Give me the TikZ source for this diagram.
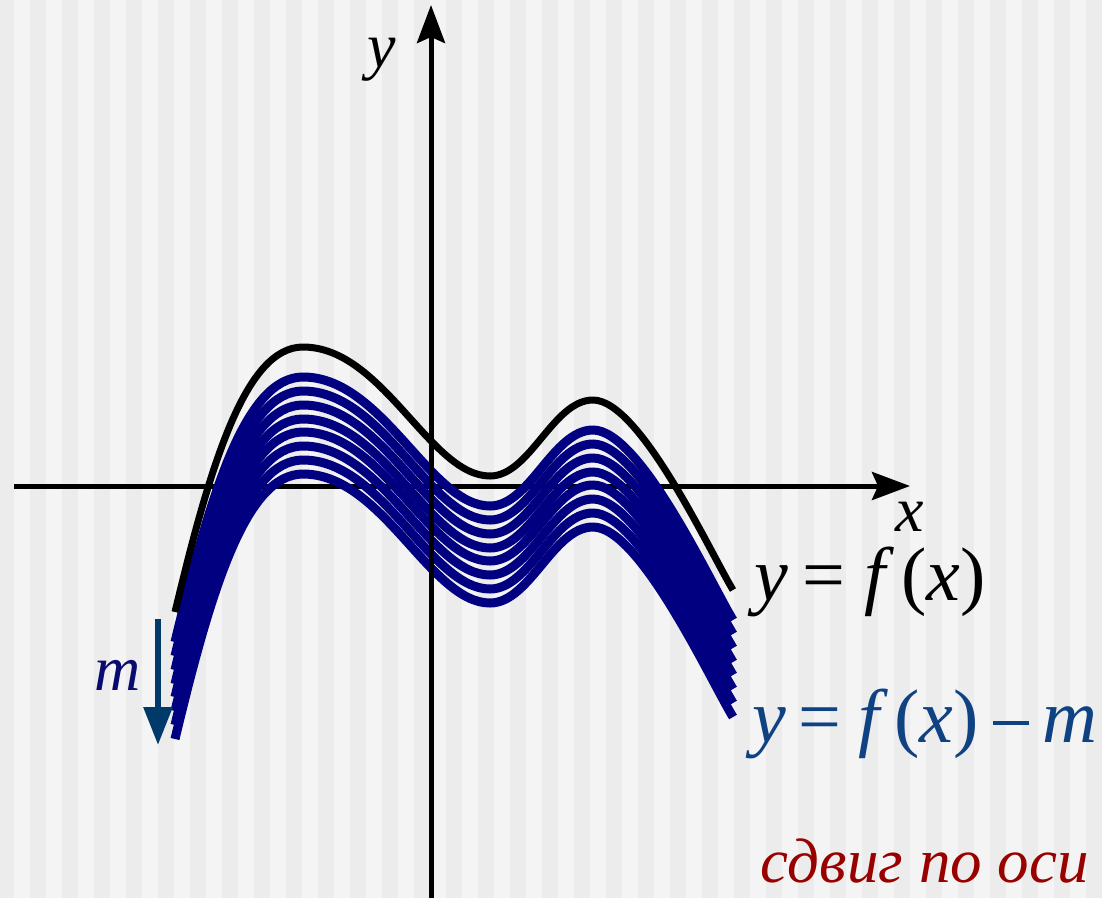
\documentclass[tikz,border=0pt]{standalone}
\usepackage{fontspec}
\setmainfont{Liberation Serif}
\usetikzlibrary{arrows.meta}
\definecolor{bgdark}{HTML}{ECECEC}
\definecolor{bglight}{HTML}{F4F4F4}
\definecolor{curveblue}{HTML}{000080}
\definecolor{arrowblue}{HTML}{003A6B}
\definecolor{formblue}{HTML}{0F4282}
\definecolor{mblue}{HTML}{0A0A70}
\definecolor{darkred}{HTML}{990000}
\newcommand\fcurvepath{(175,612) .. controls (210,466) and (245,347) .. (303,347) .. controls (383,347) and (430,476) .. (490,476) .. controls (530,476) and (553,400) .. (593,400) .. controls (640,400) and (710,552) .. (733,590)}
\newcommand\mminus{\raisebox{17pt}{\rule{36pt}{3.6pt}}}
\tikzset{
  axisline/.style={line width=5pt, black, -{Stealth[length=38pt,width=28pt,inset=6pt]}},
  blackcurve/.style={line width=7pt, black},
  bluecurve/.style={line width=9pt, curveblue},
  shiftarrow/.style={line width=6pt, arrowblue, -{Triangle[length=38pt,width=28pt]}},
  lbl/.style={inner sep=0pt, outer sep=0pt},
  bigfont/.style={font=\fontsize{76}{88}\selectfont}
}
\begin{document}
\begin{tikzpicture}[x=1pt,y=-1pt]
\useasboundingbox (0,0) rectangle (1102,898);
\fill[bgdark] (0,0) rectangle (1102,898);
\foreach \i in {0,...,34} \fill[bglight] ({14+32*\i},0) rectangle ({30+32*\i},898);
% x axis
\draw[axisline] (14,486) -- (910,486);
% shifted curves
\foreach \s in {30,44,58,72,85,99,113,127} {
  \begin{scope}[shift={(0,\s)}]
    \draw[bluecurve] \fcurvepath;
  \end{scope}
}
% y axis
\draw[axisline] (431,898) -- (431,5);
% original curve
\draw[blackcurve] \fcurvepath;
% shift arrow
\coordinate (mtop) at (158,619);
\coordinate (mtip) at (158,745);
\draw[shiftarrow] (mtop) -- (mtip);
% labels
\node[lbl, anchor=base, font=\fontsize{64}{72}\selectfont\itshape] (ylab) at (382,67) {y};
\node[lbl, anchor=base, font=\fontsize{64}{72}\selectfont\itshape] (xlab) at (910,531) {x};
\node[lbl, anchor=base, text=mblue, font=\fontsize{64}{72}\selectfont\itshape] (mlab) at (118,690) {m};
\node[lbl, anchor=base west, bigfont] (f1) at (754,600) {\textit{y}\hspace{15pt}=\hspace{19pt}\textit{f}\hspace{7pt}(\textit{x})};
\node[lbl, anchor=base west, bigfont, text=formblue] (f2) at (752,742) {\textit{y}\hspace{13pt}=\hspace{17pt}\textit{f}\hspace{6pt}(\textit{x})\hspace{14pt}\mminus\hspace{14pt}\textit{m}};
\node[lbl, anchor=base west, text=darkred, font=\fontsize{63}{72}\selectfont\itshape] (note) at (760,882) {сдвиг по оси};
\end{tikzpicture}
\end{document}
